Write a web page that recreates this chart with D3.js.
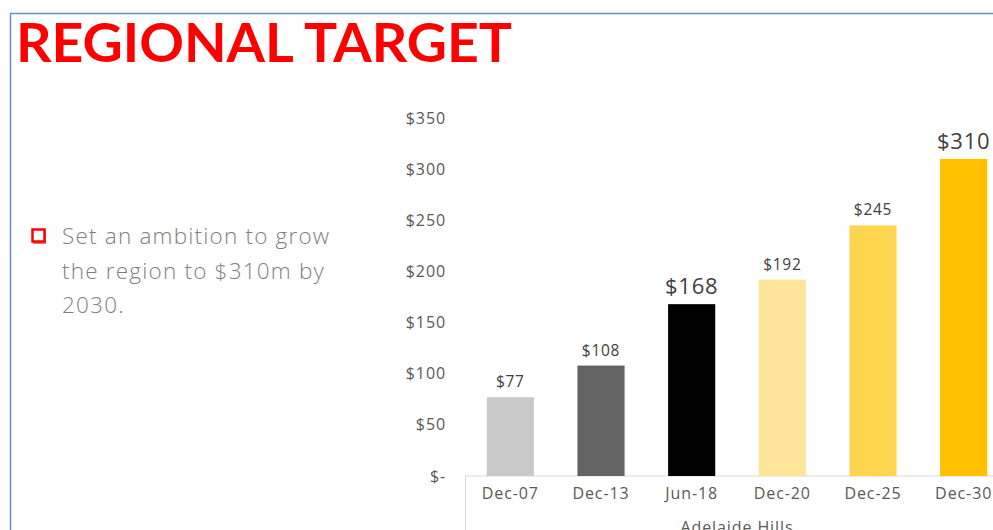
<!DOCTYPE html>
<html>
<head>
<meta charset="utf-8">
<script src="https://cdn.jsdelivr.net/npm/d3@7"></script>
<style>
  body { margin: 0; background: #fff; overflow: hidden; }
  svg { display: block; }
</style>
</head>
<body>
<svg width="993" height="530"></svg>
<script>
const width = 993, height = 530;
const svg = d3.select("svg");

// data
const periods = ["Dec-07", "Dec-13", "Jun-18", "Dec-20", "Dec-25", "Dec-30"];
const values = [77, 108, 168, 192, 245, 310];
const barColors = ["#c9c9c9", "#636363", "#000000", "#ffe597", "#ffd44f", "#ffc000"];
const bigLabels = ["Jun-18", "Dec-30"];
const yTicks = [0, 50, 100, 150, 200, 250, 300, 350];
const bulletLines = ["Set an ambition to grow", "the region to $310m by", "2030."];

const font = "'Open Sans', sans-serif";

// slide frame
svg.append("path")
  .attr("d", "M10.5,530 V13.5 H993")
  .attr("fill", "none")
  .attr("stroke", "#6c8ebf")
  .attr("stroke-width", 1.5);

// title
svg.append("text")
  .attr("x", 16).attr("y", 62)
  .attr("textLength", 496)
  .attr("lengthAdjust", "spacingAndGlyphs")
  .style("font-family", "Lato, 'DejaVu Sans', sans-serif")
  .style("font-weight", 700)
  .style("font-size", "53px")
  .attr("fill", "#ff0000")
  .text("REGIONAL TARGET");

// bullet
const bullet = svg.append("g");
bullet.append("rect")
  .attr("x", 33).attr("y", 231).attr("width", 13).attr("height", 13)
  .attr("fill", "#d00").attr("opacity", 0.55);
bullet.append("rect")
  .attr("x", 32.5).attr("y", 229.5).attr("width", 12).attr("height", 12)
  .attr("fill", "#fff").attr("stroke", "#ff0000").attr("stroke-width", 2.5);

bullet.selectAll("text.line")
  .data(bulletLines)
  .join("text")
  .attr("class", "line")
  .attr("x", 62)
  .attr("y", (d, i) => 244 + i * 34.5)
  .style("font-family", font)
  .style("font-weight", 300)
  .style("font-size", "22.5px")
  .style("letter-spacing", "1.2px")
  .attr("fill", "#7f7f7f")
  .text(d => d);

// scales
const x = d3.scaleBand()
  .domain(periods)
  .range([465, 1009])
  .paddingInner(0.48)
  .paddingOuter(0.24);

const y = d3.scaleLinear()
  .domain([0, 350])
  .range([476, 118]);

const fmt = v => v === 0 ? "$-" : "$" + v;

// y axis
const yAxis = svg.append("g")
  .attr("transform", "translate(446,0)")
  .call(d3.axisLeft(y).tickValues(yTicks).tickFormat(fmt).tickSize(0).tickPadding(0));
yAxis.select(".domain").remove();
yAxis.selectAll("text")
  .style("font-family", font)
  .style("font-size", "16px")
  .style("letter-spacing", "0.9px")
  .attr("fill", "#595959");

// x axis
const xAxis = svg.append("g")
  .attr("transform", `translate(0,${y(0)})`)
  .call(d3.axisBottom(x).tickSize(0).tickPadding(12));
xAxis.select(".domain")
  .attr("stroke", "#d9d9d9")
  .attr("d", `M465,0 H1009`);
xAxis.selectAll("text")
  .style("font-family", font)
  .style("font-size", "16px")
  .style("letter-spacing", "0.9px")
  .attr("fill", "#595959");

svg.append("line")
  .attr("x1", 465.5).attr("x2", 465.5)
  .attr("y1", y(0)).attr("y2", height)
  .attr("stroke", "#d9d9d9");

svg.append("text")
  .attr("x", 737).attr("y", 533)
  .attr("text-anchor", "middle")
  .style("font-family", font)
  .style("font-size", "16px")
  .style("letter-spacing", "0.9px")
  .attr("fill", "#595959")
  .text("Adelaide Hills");

// bars
svg.append("g")
  .selectAll("rect")
  .data(periods)
  .join("rect")
  .attr("x", d => x(d))
  .attr("width", x.bandwidth())
  .attr("y", (d, i) => y(values[i]))
  .attr("height", (d, i) => y(0) - y(values[i]))
  .attr("fill", (d, i) => barColors[i]);

// value labels
svg.append("g")
  .selectAll("text")
  .data(periods)
  .join("text")
  .attr("x", d => x(d) + x.bandwidth() / 2)
  .attr("y", (d, i) => y(values[i]) - 10)
  .attr("text-anchor", "middle")
  .style("font-family", font)
  .style("font-size", d => bigLabels.includes(d) ? "22px" : "15.5px")
  .style("letter-spacing", d => bigLabels.includes(d) ? "0.8px" : "0.7px")
  .attr("fill", "#404040")
  .text((d, i) => "$" + values[i]);
</script>
</body>
</html>
